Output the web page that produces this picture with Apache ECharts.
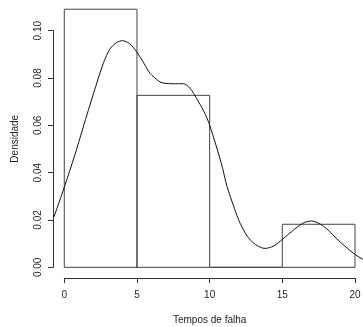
<!DOCTYPE html>
<html>
<head>
<meta charset="utf-8">
<script src="https://cdn.jsdelivr.net/npm/echarts@6/dist/echarts.min.js"></script>
<style>
  html, body { margin: 0; padding: 0; background: #fff; }
  #chart { width: 363px; height: 327px; }
</style>
</head>
<body>
<div id="chart"></div>
<script>
// Histogram bins (density scale) of failure times
const binStart = [0, 5, 10, 15];
const binEnd = [5, 10, 15, 20];
const binDensity = [0.1091, 0.0727, 0, 0.0182];

// Kernel density estimate of the same times
const kdeX = [-0.78, -0.71, 0, 0.7, 1.3, 2.0, 2.7, 3.15, 3.6, 4.0, 4.5, 5.0, 5.5, 5.9, 6.5, 6.8, 7.5, 8.2, 8.65, 9.1, 9.6, 10.0, 10.8, 11.2, 11.7, 12.1, 12.8, 13.8, 14.4, 15.0, 15.5, 16.4, 17.0, 17.6, 18.2, 18.7, 19.3, 19.9, 20.5, 20.8];
const kdeY = [0.0210, 0.0214, 0.0339, 0.0470, 0.0592, 0.0733, 0.0865, 0.0924, 0.0950, 0.0958, 0.0945, 0.0909, 0.0860, 0.0820, 0.0787, 0.0779, 0.0776, 0.0776, 0.0757, 0.0714, 0.0660, 0.0601, 0.0440, 0.0341, 0.0250, 0.0186, 0.0115, 0.0080, 0.0090, 0.0118, 0.0144, 0.0186, 0.0196, 0.0183, 0.0155, 0.0123, 0.0090, 0.0059, 0.0035, 0.0026];

// Axis ticks
const xTicks = [0, 5, 10, 15, 20];
const yTicks = [0, 0.02, 0.04, 0.06, 0.08, 0.10];

const kdeData = kdeX.map((x, i) => [x, kdeY[i]]);
const binData = binStart.map((s, i) => [s, binEnd[i], binDensity[i]]);

const textColor = '#222';
const font = 'Liberation Sans, Arial, sans-serif';

const chart = echarts.init(document.getElementById('chart'), null, { renderer: 'canvas' });
chart.setOption({
  animation: false,
  backgroundColor: '#fff',
  grid: [
    // plotting region
    { left: 53, right: 0, top: 0, bottom: 49.5, outerBoundsMode: 'none', containLabel: false },
    // left axis, spanning 0 .. 0.10
    { left: 53, width: 1, top: 30.7, height: 236.6, outerBoundsMode: 'none', containLabel: false },
    // bottom axis, spanning 0 .. 20
    { left: 64.3, width: 290.7, top: 277, height: 1, outerBoundsMode: 'none', containLabel: false }
  ],
  xAxis: [
    { gridIndex: 0, type: 'value', min: -0.777, max: 20.55,
      axisLine: { show: false }, axisTick: { show: false }, axisLabel: { show: false }, splitLine: { show: false } },
    { gridIndex: 1, type: 'value', min: 0, max: 1, show: false },
    { gridIndex: 2, type: 'value', min: xTicks[0], max: xTicks[xTicks.length - 1], interval: 5,
      position: 'bottom',
      axisLine: { show: true, lineStyle: { color: '#333', width: 1 } },
      axisTick: { show: true, length: 5, lineStyle: { color: '#333' } },
      axisLabel: { show: true, margin: 12, color: textColor, fontSize: 10, fontFamily: font,
        formatter: v => String(v) },
      splitLine: { show: false },
      name: 'Tempos de falha', nameLocation: 'middle', nameGap: 37,
      nameTextStyle: { color: textColor, fontSize: 10, fontFamily: font } }
  ],
  yAxis: [
    { gridIndex: 0, type: 'value', min: -0.0043, max: 0.1130,
      axisLine: { show: false }, axisTick: { show: false }, axisLabel: { show: false }, splitLine: { show: false },
      name: 'Densidade', nameLocation: 'middle', nameGap: 33, nameRotate: 90,
      nameTextStyle: { color: textColor, fontSize: 10, fontFamily: font } },
    { gridIndex: 1, type: 'value', min: yTicks[0], max: yTicks[yTicks.length - 1], interval: 0.02,
      position: 'left',
      axisLine: { show: true, lineStyle: { color: '#333', width: 1 } },
      axisTick: { show: true, length: 5, lineStyle: { color: '#333' } },
      axisLabel: { show: true, margin: 10, rotate: 90, color: textColor, fontSize: 10, fontFamily: font,
        formatter: v => v.toFixed(2) },
      splitLine: { show: false } },
    { gridIndex: 2, type: 'value', min: 0, max: 1, show: false }
  ],
  series: [
    {
      type: 'custom',
      xAxisIndex: 0, yAxisIndex: 0,
      data: binData,
      clip: true,
      renderItem: (params, api) => {
        const p0 = api.coord([api.value(0), api.value(2)]);
        const p1 = api.coord([api.value(1), 0]);
        return {
          type: 'rect',
          shape: { x: p0[0], y: p0[1], width: p1[0] - p0[0], height: p1[1] - p0[1] },
          style: { fill: 'none', stroke: '#444', lineWidth: 1 }
        };
      }
    },
    {
      type: 'line',
      xAxisIndex: 0, yAxisIndex: 0,
      data: kdeData,
      smooth: 0.3,
      showSymbol: false,
      clip: true,
      lineStyle: { color: '#111', width: 1 }
    }
  ]
});
</script>
</body>
</html>
